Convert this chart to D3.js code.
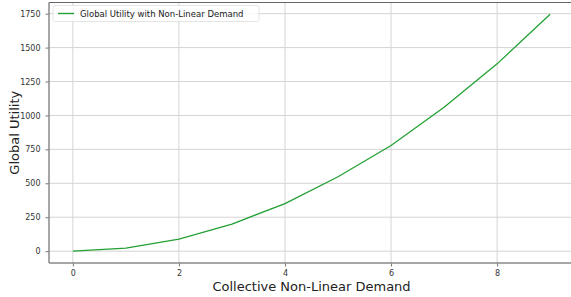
<!DOCTYPE html>
<html>
<head>
<meta charset="utf-8">
<script src="https://cdn.jsdelivr.net/npm/d3@7"></script>
<style>
  body { margin: 0; background: #fff; overflow: hidden; }
  text { font-family: "DejaVu Sans", sans-serif; }
</style>
</head>
<body>
<div id="chart"></div>
<script>
// data
const demand = [0, 1, 2, 3, 4, 5, 6, 7, 8, 9];
const utility = [0, 23, 89, 200, 350, 548, 778, 1060, 1380, 1745];
const xTicks = [0, 2, 4, 6, 8];
const yTicks = [0, 250, 500, 750, 1000, 1250, 1500, 1750];

const W = 571, H = 297;
const margin = {top: 2.5, right: -3, bottom: 34, left: 49};
const width = W - margin.left - margin.right,
    height = H - margin.top - margin.bottom;

const svg = d3.select("#chart").append("svg")
    .attr("width", W)
    .attr("height", H)
    .style("display", "block");

const g = svg.append("g")
    .attr("transform", "translate(" + margin.left + "," + margin.top + ")");

// matplotlib style 5% padding
const x = d3.scaleLinear().domain([-0.45, 9.45]).range([0, width]);
const y = d3.scaleLinear().domain([-87.25, 1832.25]).range([height, 0]);

// grid
g.append("g").selectAll("line").data(xTicks).enter().append("line")
    .attr("x1", d => x(d)).attr("x2", d => x(d))
    .attr("y1", 0).attr("y2", height)
    .attr("stroke", "#d4d4d4").attr("stroke-width", 1);
g.append("g").selectAll("line").data(yTicks).enter().append("line")
    .attr("y1", d => y(d)).attr("y2", d => y(d))
    .attr("x1", 0).attr("x2", width)
    .attr("stroke", "#d4d4d4").attr("stroke-width", 1);

// axes
const xAxis = g.append("g")
    .attr("transform", "translate(0," + height + ")")
    .call(d3.axisBottom(x).tickValues(xTicks).tickSize(3.5).tickPadding(4).tickFormat(d3.format("d")));
const yAxis = g.append("g")
    .call(d3.axisLeft(y).tickValues(yTicks).tickSize(3.5).tickPadding(5).tickFormat(d3.format("d")));

[xAxis, yAxis].forEach(a => {
  a.select(".domain").remove();
  a.selectAll(".tick line").attr("stroke", "#555").attr("stroke-width", 0.8);
  a.selectAll(".tick text").attr("fill", "#333").style("font-size", "8px");
});

// spines
g.append("line").attr("x1", 0).attr("x2", 0).attr("y1", 0).attr("y2", height)
    .attr("stroke", "#888").attr("stroke-width", 1.5);
g.append("line").attr("x1", 0).attr("x2", width).attr("y1", height).attr("y2", height)
    .attr("stroke", "#888").attr("stroke-width", 1.5);
g.append("line").attr("x1", 0).attr("x2", width).attr("y1", 0).attr("y2", 0)
    .attr("stroke", "#666").attr("stroke-width", 1);

// the line
const line = d3.line()
    .x((d, i) => x(demand[i]))
    .y(d => y(d));

g.append("path")
    .datum(utility)
    .attr("fill", "none")
    .attr("stroke", "#22a033")
    .attr("stroke-width", 1.3)
    .attr("d", line);

// axis labels
svg.append("text")
    .attr("x", margin.left + x(4.5))
    .attr("y", 291)
    .attr("text-anchor", "middle")
    .attr("fill", "#222")
    .style("font-size", "13px")
    .text("Collective Non-Linear Demand");

svg.append("text")
    .attr("transform", "translate(19," + (margin.top + height / 2) + ") rotate(-90)")
    .attr("text-anchor", "middle")
    .attr("fill", "#222")
    .style("font-size", "13px")
    .text("Global Utility");

// legend
const legend = g.append("g").attr("transform", "translate(4,3)");
legend.append("rect")
    .attr("width", 206).attr("height", 16).attr("rx", 2)
    .attr("fill", "#fff").attr("fill-opacity", 0.8)
    .attr("stroke", "#ddd").attr("stroke-width", 0.8);
legend.append("line")
    .attr("x1", 5).attr("x2", 21).attr("y1", 8).attr("y2", 8)
    .attr("stroke", "#22a033").attr("stroke-width", 1.4);
legend.append("text")
    .attr("x", 27).attr("y", 11.5)
    .attr("fill", "#222")
    .style("font-size", "8.5px")
    .text("Global Utility with Non-Linear Demand");
</script>
</body>
</html>
